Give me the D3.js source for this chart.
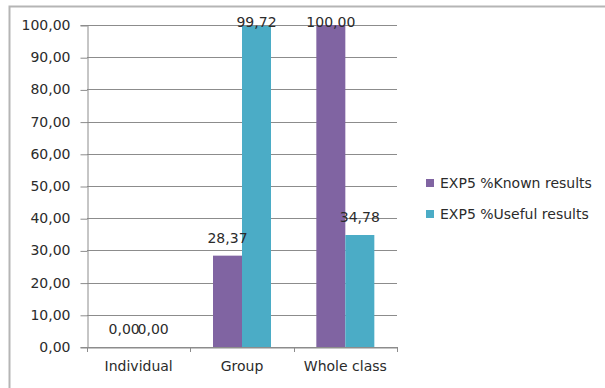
<!DOCTYPE html>
<html>
<head>
<meta charset="utf-8">
<script src="https://cdn.jsdelivr.net/npm/d3@7"></script>
<style>
  html, body { margin: 0; padding: 0; background: #fff; }
  svg { display: block; }
</style>
</head>
<body>
<svg id="chart" width="605" height="388"></svg>
<script>
// Category labels and series values
const categories = ["Individual", "Group", "Whole class"];
const seriesNames = ["EXP5 %Known results", "EXP5 %Useful results"];
const knownValues = [0, 28.37, 100];
const usefulValues = [0, 99.72, 34.78];
const yTicks = [0, 10, 20, 30, 40, 50, 60, 70, 80, 90, 100];
const seriesColors = ["#8064a2", "#4bacc6"];

const series = [knownValues, usefulValues];
const fmt = v => v.toFixed(2).replace(".", ",");

const svg = d3.select("#chart");
const font = "'DejaVu Sans', Verdana, sans-serif";
const textColor = "#2b2b2b";
const gridColor = "#8c8c8c";

// outer chart frame
svg.append("rect")
  .attr("x", 9.5).attr("y", 6.5)
  .attr("width", 620).attr("height", 400)
  .attr("fill", "#fff")
  .attr("stroke", "#b5b5b5").attr("stroke-width", 2);

const plot = { left: 87, right: 397, top: 25, bottom: 347 };

const x = d3.scaleBand()
  .domain(categories)
  .range([plot.left, plot.right])
  .paddingInner(0).paddingOuter(0);

const barW = 29;
const xs = d3.scaleBand()
  .domain(d3.range(series.length))
  .range([0, barW * series.length]);

const y = d3.scaleLinear().domain([0, 100]).range([plot.bottom, plot.top]);

// horizontal gridlines
svg.append("g")
  .selectAll("line")
  .data(yTicks)
  .join("line")
  .attr("x1", plot.left).attr("x2", plot.right)
  .attr("y1", d => Math.round(y(d)) + 0.5)
  .attr("y2", d => Math.round(y(d)) + 0.5)
  .attr("stroke", gridColor).attr("stroke-width", 1);

// y axis
const yAxis = svg.append("g")
  .attr("transform", `translate(${plot.left + 0.5},0)`)
  .call(d3.axisLeft(y).tickValues(yTicks).tickFormat(fmt).tickSize(7).tickPadding(10));
yAxis.select(".domain").attr("stroke", gridColor);
yAxis.selectAll(".tick line").attr("stroke", gridColor)
  .attr("transform", "translate(0,0.5)");
yAxis.selectAll(".tick text")
  .attr("fill", textColor)
  .style("font-family", font).style("font-size", "14px");

// x axis
const xAxis = svg.append("g")
  .attr("transform", `translate(0,${plot.bottom + 0.5})`)
  .call(d3.axisBottom(x).tickSize(0).tickPadding(14));
xAxis.select(".domain").attr("stroke", gridColor);
xAxis.selectAll(".tick text")
  .attr("fill", textColor)
  .style("font-family", font).style("font-size", "14px");
// category boundary tick marks
svg.append("g")
  .selectAll("line")
  .data([plot.left, ...categories.map(c => x(c) + x.bandwidth())])
  .join("line")
  .attr("x1", d => Math.round(d) + 0.5).attr("x2", d => Math.round(d) + 0.5)
  .attr("y1", plot.bottom).attr("y2", plot.bottom + 5)
  .attr("stroke", gridColor);

// bars
const groups = svg.append("g")
  .selectAll("g")
  .data(categories)
  .join("g")
  .attr("transform", c => `translate(${x(c) + (x.bandwidth() - barW * series.length) / 2},0)`);

groups.selectAll("rect")
  .data((c, i) => series.map((s, k) => ({ k, v: s[i] })))
  .join("rect")
  .attr("x", d => xs(d.k))
  .attr("width", xs.bandwidth())
  .attr("y", d => y(d.v))
  .attr("height", d => y(0) - y(d.v))
  .attr("fill", d => seriesColors[d.k]);

// value labels
groups.selectAll("text")
  .data((c, i) => series.map((s, k) => ({ k, v: s[i] })))
  .join("text")
  .attr("x", d => xs(d.k) + xs.bandwidth() / 2)
  .attr("y", d => Math.max(y(d.v) - 18, 22))
  .attr("dy", "0.35em")
  .attr("text-anchor", "middle")
  .attr("fill", textColor)
  .style("font-family", font).style("font-size", "14px")
  .text(d => fmt(d.v));

// legend
const legend = svg.append("g")
  .selectAll("g")
  .data(seriesNames)
  .join("g")
  .attr("transform", (d, i) => `translate(426,${183 + i * 31})`);
legend.append("rect")
  .attr("x", 0).attr("y", -4).attr("width", 8).attr("height", 8)
  .attr("fill", (d, i) => seriesColors[i]);
legend.append("text")
  .attr("x", 14).attr("y", 0).attr("dy", "0.35em")
  .attr("fill", textColor)
  .style("font-family", font).style("font-size", "14px")
  .text(d => d);
</script>
</body>
</html>
